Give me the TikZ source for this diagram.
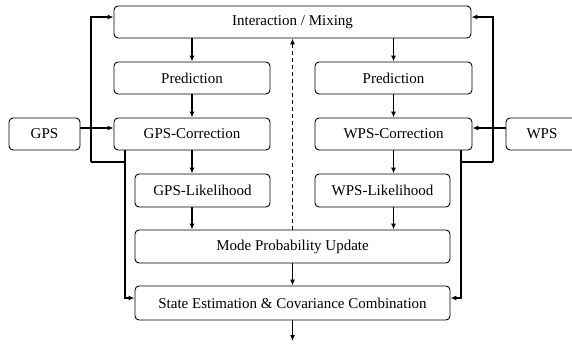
\documentclass[tikz,border=0pt]{standalone}
\usepackage{fontspec}
\setmainfont{Liberation Serif}
\usetikzlibrary{arrows.meta,calc}
\tikzset{
  blk/.style={draw, rounded corners=4pt, line width=0.9pt, minimum height=32pt,
    inner sep=0pt, font=\fontsize{15}{17}\selectfont},
  arr/.style={line width=1.2pt, -{Latex[length=6pt,width=5pt]}},
  ln/.style={line width=1.2pt}
}
\begin{document}
\begin{tikzpicture}[x=1pt,y=-1pt]
    \useasboundingbox (0,0) rectangle (572,343);
    % Blocks
    \node[blk, minimum width=357pt] (inter) at (292.5,22) {Interaction / Mixing};
    \node[blk, minimum width=156pt] (predG) at (192,78) {Prediction};
    \node[blk, minimum width=156pt] (corrG) at (192,134) {GPS-Correction};
    \node[blk, minimum width=71pt] (gps) at (44.5,134) {GPS};
    \node[blk, minimum width=135pt, minimum height=33pt] (likeG) at (202.5,190.5) {GPS-Likelihood};
    \node[blk, minimum width=157pt] (predW) at (393.5,78) {Prediction};
    \node[blk, minimum width=157pt] (corrW) at (393.5,134) {WPS-Correction};
    \node[blk, minimum width=72pt] (wps) at (542,134) {WPS};
    \node[blk, minimum width=135pt, minimum height=33pt] (likeW) at (382.5,190.5) {WPS-Likelihood};
    \node[blk, minimum width=315pt, minimum height=33pt] (mode) at (292.5,246.5) {Mode Probability Update};
    \node[blk, minimum width=315pt, minimum height=34pt] (state) at (292.5,303) {State Estimation \& Covariance Combination};
    % Taps and corners
    \coordinate (tapG) at (125,150);
    \coordinate (tapW) at (461,150);
    \coordinate (cG) at (91,162);
    \coordinate (cW) at (493,162);
    \coordinate (out) at (292.5,341);
    %
    % Main flow:
    \draw[arr] (inter.south -| predG) -- (predG.north);
    \draw[arr] (predG) -- (corrG);
    \draw[arr] (corrG.south) -- (corrG.south |- likeG.north);
    \draw[arr] (likeG.south -| corrG) -- (mode.north -| corrG);
    \draw[arr] (inter.south -| predW) -- (predW.north);
    \draw[arr] (predW) -- (corrW);
    \draw[arr] (corrW.south) -- (corrW.south |- likeW.north);
    \draw[arr] (likeW.south -| corrW) -- (mode.north -| corrW);
    \draw[arr] (mode) -- (state);
    \draw[arr] (state) -- (out);
    \draw[arr, dash pattern=on 4pt off 3pt] (mode.north) -- (inter.south);
    % Sensor inputs
    \draw[arr] ($(gps.east)+(0,-6)$) -- ($(corrG.west)+(0,-6)$);
    \draw[arr] ($(wps.west)+(0,-6)$) -- ($(corrW.east)+(0,-6)$);
    % Feedback loops
    \draw[ln] (tapG) -- (tapG |- cG) -- (cG);
    \draw[arr] (cG) -- ($(cG |- inter.west)+(0,-5)$) -- ($(inter.west)+(0,-5)$);
    \draw[arr] (tapG) -- ($(tapG |- state.west)+(0,-5)$) -- ($(state.west)+(0,-5)$);
    \draw[ln] (tapW) -- (tapW |- cW) -- (cW);
    \draw[arr] (cW) -- ($(cW |- inter.east)+(0,-5)$) -- ($(inter.east)+(0,-5)$);
    \draw[arr] (tapW) -- ($(tapW |- state.east)+(0,-5)$) -- ($(state.east)+(0,-5)$);
\end{tikzpicture}
\end{document}
